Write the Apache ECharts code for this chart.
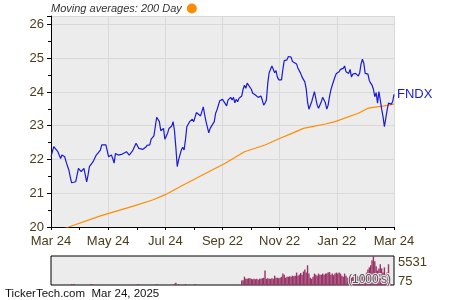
<!DOCTYPE html>
<html><head><meta charset="utf-8">
<script src="https://cdn.jsdelivr.net/npm/echarts@6/dist/echarts.min.js"></script>
<style>html,body{margin:0;padding:0;background:#fff}#c{width:450px;height:300px}</style>
</head><body><div id="c"></div>
<script>
// Tick labels along the x axis (every 2 months)
const xTickLabels = ['Mar 24','May 24','Jul 24','Sep 22','Nov 22','Jan 22','Mar 24'];
const totalDays = 250;

// FNDX closing price (trading-day index, value)
const priceDays = [0,2,3,5,6,7,8,10,11,13,14,15,16,18,19,20,22,23,24,26,27,28,30,31,33,34,36,37,38,40,41,42,44,45,46,47,48,49,50,52,53,55,56,57,59,60,61,62,64,65,67,68,69,70,72,73,75,76,77,79,80,82,83,85,86,88,89,90,91,92,93,94,95,96,97,98,99,101,102,103,104,106,107,109,111,112,113,115,116,117,119,120,121,122,123,125,126,128,129,131,132,133,134,135,136,137,139,140,141,142,143,144,146,147,149,150,151,153,154,155,156,157,158,159,160,161,162,163,164,165,166,167,168,169,170,171,172,173,175,176,177,179,180,182,183,185,186,187,188,189,190,191,192,193,194,195,196,197,198,199,200,201,202,203,204,205,207,208,209,210,211,212,213,214,215,216,217,218,219,220,221,222,223,224,225,226,227,228,229,230,231,232,233,234,235,236,237,238,239,240,241,242,243,244,245,246,247,248,249,250];
const priceValues = [22.08,22.38,22.43,22.23,22.20,22.03,22.13,22.08,21.93,21.69,21.49,21.31,21.26,21.34,21.54,21.74,21.64,21.69,21.74,21.34,21.54,21.79,21.90,21.96,22.13,22.18,22.28,22.43,22.45,22.43,22.38,22.08,22.13,22.03,21.89,22.18,22.23,22.13,22.18,22.16,22.20,22.23,22.18,22.13,22.23,22.30,22.33,22.48,22.33,22.28,22.30,22.26,22.36,22.42,22.43,22.60,22.70,22.97,23.25,23.12,22.85,22.92,22.60,22.78,22.92,22.99,23.12,22.85,22.36,21.79,21.99,21.96,22.28,22.36,22.28,22.58,22.97,23.12,23.07,23.19,23.12,23.39,23.39,23.29,23.56,23.32,23.12,22.79,22.92,22.87,23.12,23.37,23.47,23.49,23.74,23.78,23.81,23.59,23.76,23.84,23.76,23.84,23.68,23.78,23.71,23.81,23.88,24.08,24.20,24.11,24.26,24.24,24.08,23.96,23.91,23.94,23.84,23.88,23.76,23.61,23.67,23.76,24.26,24.57,24.60,24.77,24.67,24.57,24.63,24.44,24.36,24.41,24.36,24.67,24.93,24.97,24.95,25.05,25.03,24.90,24.87,24.83,24.70,24.55,24.44,24.30,24.10,23.70,23.49,23.45,23.71,23.86,24.01,23.81,23.61,23.52,23.56,23.71,23.84,23.76,23.68,23.49,23.61,23.86,24.06,24.20,24.45,24.55,24.57,24.60,24.67,24.63,24.70,24.77,24.60,24.63,24.55,24.67,24.44,24.53,24.57,24.55,24.60,24.47,24.57,24.83,24.97,24.85,24.55,24.50,24.53,24.34,24.26,24.20,24.08,23.86,23.98,23.67,24.01,23.76,23.49,23.27,22.97,23.22,23.47,23.67,23.71,23.64,23.71,23.93];

// 200-day moving average
const maDays = [0,13,36,60,74,83,94,109,127,141,156,167,176,184,200,207,224,231,243,250];
const maValues = [19.82,20.00,20.33,20.62,20.80,20.95,21.19,21.51,21.89,22.23,22.43,22.63,22.78,22.92,23.05,23.12,23.37,23.52,23.59,23.64];

// Volume (1000's)
const volDays = [15,16,17,29,30,63,64,77,90,91,93,98,105,
  139,140,141,142,143,144,145,146,147,148,149,150,151,152,153,154,155,156,157,158,159,160,161,162,163,164,165,166,167,168,169,170,171,172,173,174,175,176,177,178,179,180,181,182,183,184,185,186,187,188,189,190,191,192,193,194,195,196,197,198,199,200,201,202,203,204,205,206,207,208,209,210,211,212,213,214,215,216,217,218,219,220,221,222,223,224,225,226,227,228,229,230,231,232,233,234,235,236,237,238,239,240,241,242,243,244,245,246,247,248];
const volValues = [200,200,200,200,200,150,150,150,250,450,200,200,200,
  860,900,1600,1200,1200,1300,1300,1200,1100,1200,1100,1200,1000,1200,1200,1300,1400,2800,1200,1300,1200,1200,1300,1200,1800,1400,1400,1300,1400,1600,2200,2000,1400,1600,1600,1700,1600,1800,1700,1800,2400,1800,2000,2300,2000,2600,3000,2400,3800,2200,1400,1200,1600,2200,2000,1800,2200,2000,2000,2200,2000,2200,2200,2400,2500,2000,2200,1900,2200,2400,2200,2400,2200,1800,1600,2200,1800,1400,1400,1600,1400,1600,1800,1600,1800,1600,1800,2000,2000,1800,2000,2400,3000,3400,3800,4800,5531,4600,3600,2800,3200,4000,3200,2400,3400,2000,2400,4000,1000,200];
const volLabels = [75, 5531];

const toMonth = d => d * 12 / totalDays;
const pricePts = priceDays.map((d, i) => [toMonth(d), priceValues[i]]);
const maPts = maDays.map((d, i) => [toMonth(d), maValues[i]]);
const volPts = volDays.map((d, i) => [toMonth(d), volValues[i]]);

const FONT = "'Liberation Sans', Arial, sans-serif";
const LBL = '#4a3b1a';

const chart = echarts.init(document.getElementById('c'), null, {renderer: 'canvas'});
chart.setOption({
  animation: false,
  backgroundColor: '#ffffff',
  textStyle: {fontFamily: FONT},
  legend: {
    data: [{name: 'Moving averages: 200 Day', icon: 'circle'}],
    left: 46, top: -2, align: 'right', itemWidth: 10, itemHeight: 10, itemGap: 4,
    textStyle: {fontStyle: 'italic', fontSize: 11, color: '#333', fontFamily: FONT},
    selectedMode: false
  },
  grid: [
    {left: 51, top: 16, width: 343, height: 211, show: true, backgroundColor: '#ececec', borderWidth: 0},
    {left: 51, top: 256, width: 343, height: 29, show: true, backgroundColor: '#ececec', borderColor: '#000', borderWidth: 1}
  ],
  xAxis: [
    {gridIndex: 0, type: 'value', min: 0, max: 12, interval: 2,
     axisLine: {show: true, lineStyle: {color: '#000', width: 1}},
     axisTick: {show: true, length: 3, lineStyle: {color: '#000'}},
     minorTick: {show: true, splitNumber: 2, length: 3, lineStyle: {color: '#000'}},
     splitLine: {show: true, lineStyle: {color: '#d9d9d9', width: 1}},
     axisLabel: {color: LBL, fontSize: 13, margin: 8, fontFamily: FONT,
       formatter: v => xTickLabels[Math.round(v / 2)] || ''}},
    {gridIndex: 1, type: 'value', min: 0, max: 12,
     axisLine: {show: false}, axisTick: {show: false}, axisLabel: {show: false}, splitLine: {show: false}}
  ],
  yAxis: [
    {gridIndex: 0, type: 'value', min: 20, max: 26.25, interval: 1,
     axisLine: {show: true, lineStyle: {color: '#000', width: 1}},
     axisTick: {show: true, length: 4, lineStyle: {color: '#000'}},
     minorTick: {show: true, splitNumber: 2, length: 3, lineStyle: {color: '#000'}},
     splitLine: {show: true, lineStyle: {color: '#d9d9d9', width: 1}},
     axisLabel: {color: LBL, fontSize: 13, margin: 7, fontFamily: FONT, showMaxLabel: false,
       formatter: v => Number.isInteger(v) ? String(v) : ''}},
    {gridIndex: 1, type: 'value', min: 0, max: 5600, position: 'right',
     axisLine: {show: false}, axisTick: {show: false}, splitLine: {show: false},
     axisLabel: {show: true, customValues: volLabels, color: LBL, fontSize: 13, margin: 4, fontFamily: FONT,
       formatter: v => v === volLabels[1] ? '{t|' + v + '}' : '{b|' + v + '}',
       rich: {t: {padding: [12, 0, 0, 0], fontSize: 13, color: LBL}, b: {padding: [0, 0, 6, 0], fontSize: 13, color: LBL}}}}
  ],
  series: [
    {name: 'Moving averages: 200 Day', type: 'line', xAxisIndex: 0, yAxisIndex: 0, data: maPts,
     showSymbol: false, clip: true, itemStyle: {color: '#ff8c00'},
     lineStyle: {color: '#ff8c00', width: 1.2}, z: 3},
    {name: 'FNDX', type: 'line', xAxisIndex: 0, yAxisIndex: 0, data: pricePts,
     showSymbol: false, clip: false, lineStyle: {color: '#1a1ad8', width: 1.2}, itemStyle: {color: '#1a1ad8'},
     endLabel: {show: true, formatter: 'FNDX', color: '#1a1ad8', fontSize: 13, distance: 3, fontFamily: FONT}, z: 4},
    {name: 'Volume', type: 'bar', xAxisIndex: 1, yAxisIndex: 1, data: volPts,
     barWidth: 1.4, itemStyle: {color: '#993366'}, z: 2}
  ],
  graphic: [
    {type: 'text', right: 58, top: 273, z: 100,
     style: {text: "(1000's)", fontSize: 12, fill: '#555', stroke: '#e8e8e8', lineWidth: 2, fontFamily: FONT}},
    {type: 'text', left: 5, top: 288, z: 100,
     style: {text: 'TickerTech.com  Mar 24, 2025', fontSize: 11.5, fill: '#111', fontFamily: FONT}}
  ]
});
</script></body></html>
